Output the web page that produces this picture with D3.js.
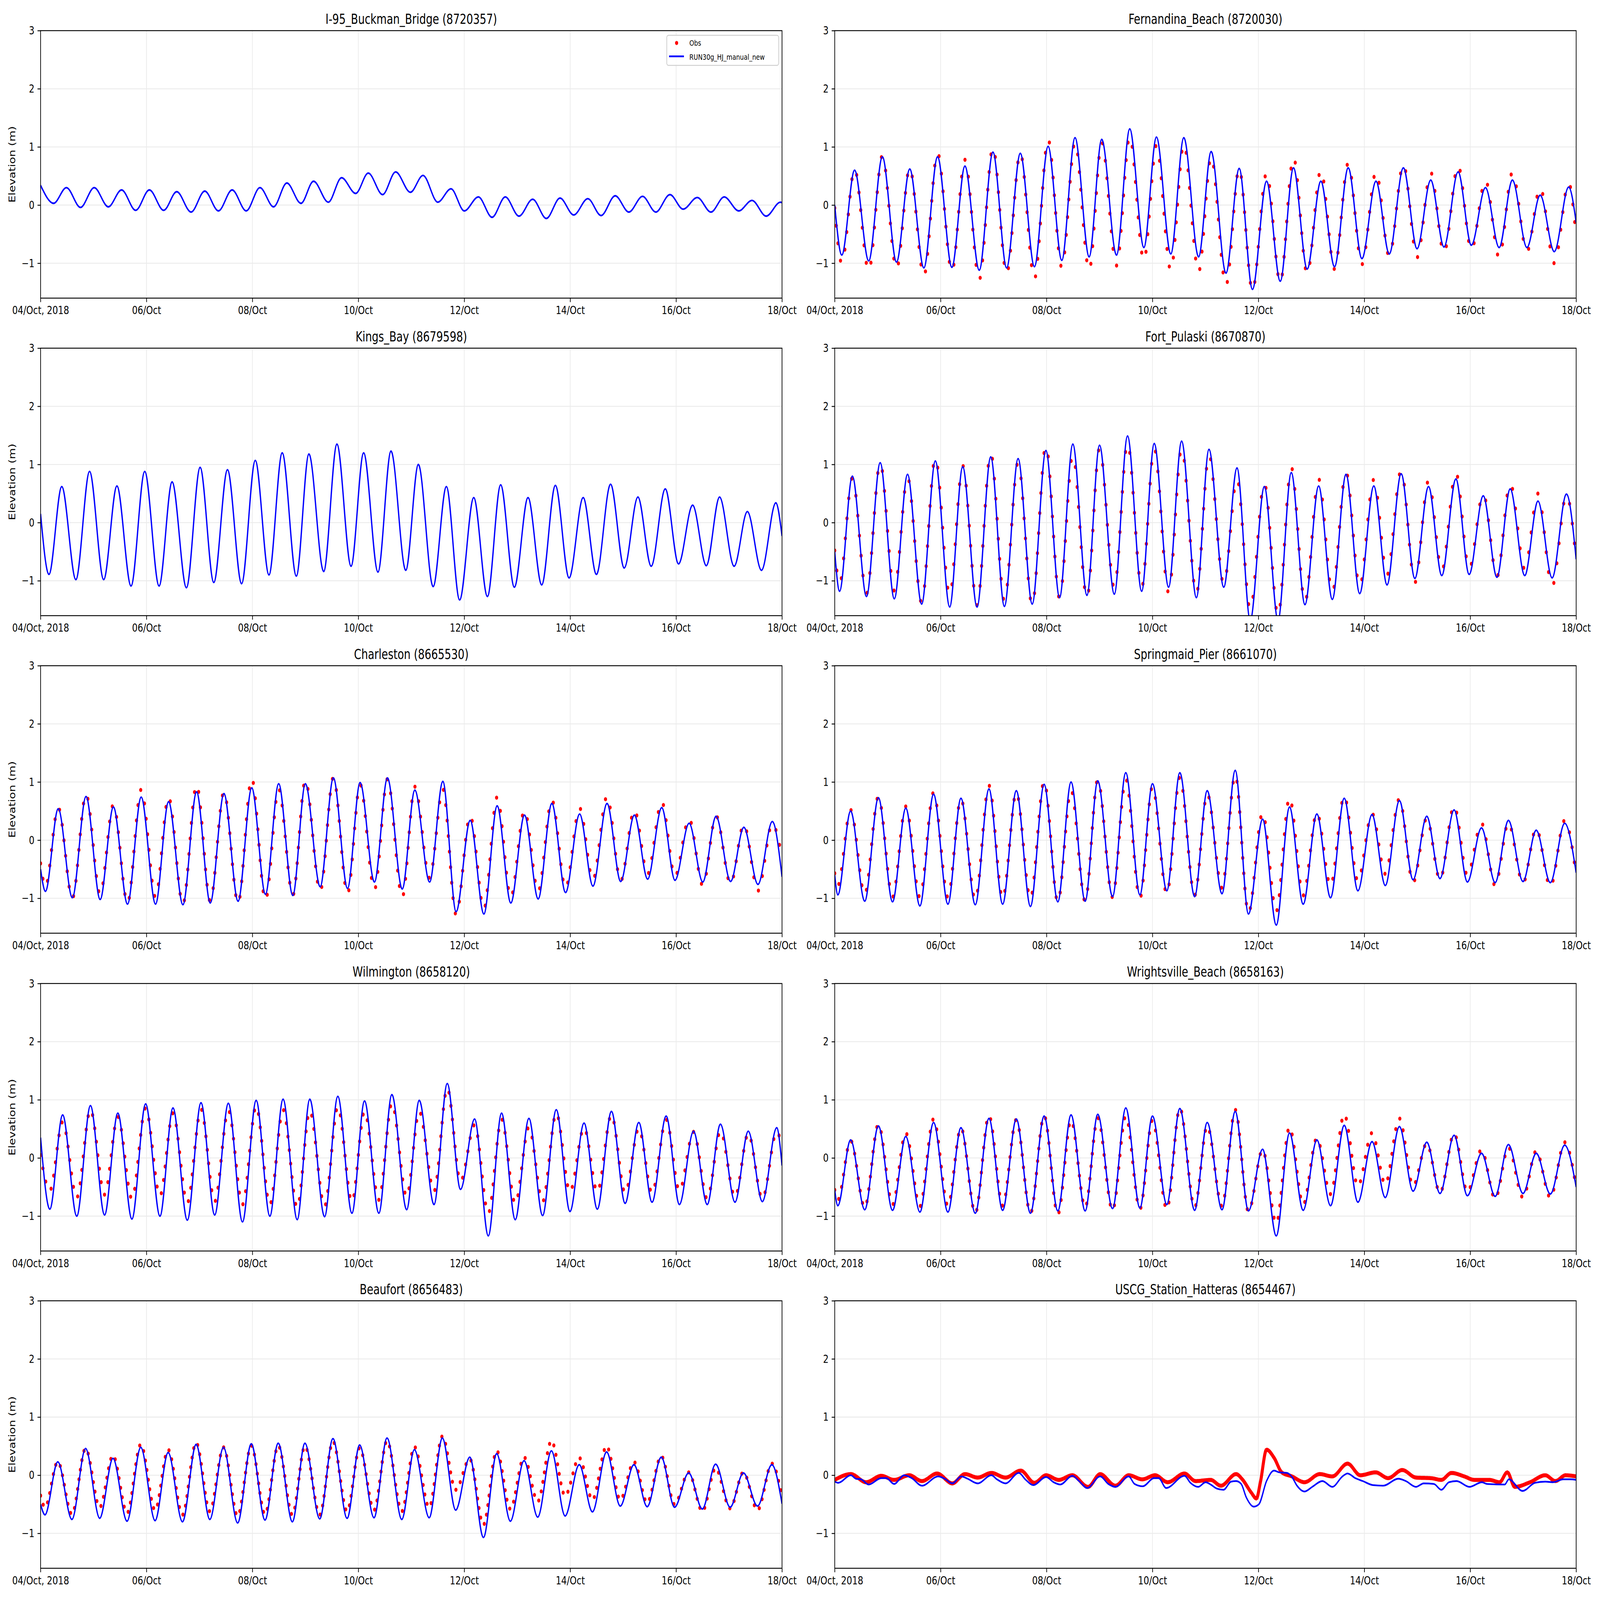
<!DOCTYPE html>
<html>
<head>
<meta charset="utf-8">
<script src="https://cdn.jsdelivr.net/npm/d3@7"></script>
<style>
  html, body { margin: 0; padding: 0; background: #fff; overflow: hidden; }
  svg { display: block; width: 100vw; height: 100vh; }
  text { font-family: "DejaVu Sans", sans-serif; }
</style>
</head>
<body>
<script>
// tide extrema times (hours after 04/Oct 00:00), alternating low / high
var extremaHours = [3.2, 9.0, 15.4, 21.6, 28.0, 34.0, 40.4, 46.6, 53.1, 59.0, 65.5, 71.7,
  77.9, 84.1, 90.5, 96.7, 102.9, 108.9, 115.3, 121.0, 127.7, 133.7, 140.1, 145.8,
  152.3, 158.2, 164.9, 170.6, 177.3, 183.3, 189.3, 195.7, 201.9, 207.9, 214.1, 220.3,
  226.5, 232.7, 238.9, 245.3, 251.3, 257.7, 263.9, 270.1, 276.1, 282.5, 288.5, 294.9,
  301.1, 307.1, 313.7, 319.7, 326.1, 332.6];

var stationNames = ["I-95_Buckman_Bridge (8720357)", "Fernandina_Beach (8720030)",
  "Kings_Bay (8679598)", "Fort_Pulaski (8670870)", "Charleston (8665530)",
  "Springmaid_Pier (8661070)", "Wilmington (8658120)", "Wrightsville_Beach (8658163)",
  "Beaufort (8656483)", "USCG_Station_Hatteras (8654467)"];
var phaseShift = [2.7, 0, 0.6, -1.0, -1.0, -1.8, 1.0, -1.8, -1.2, null];

var tickDays = [4, 6, 8, 10, 12, 14, 16, 18];
var tickLabels = ["04/Oct, 2018", "06/Oct", "08/Oct", "10/Oct", "12/Oct", "14/Oct", "16/Oct", "18/Oct"];
var yTicks = [-1, 0, 1, 2, 3];
var legendLabels = ["Obs", "RUN30g_HJ_manual_new"];

// series: value at 0h, then low/high pairs at the extrema, then value at 336h
var buckmanModel = [0.34,
  0.03,0.30, -0.04,0.30, -0.03,0.26, -0.09,0.26, -0.09,0.23, -0.12,0.24, -0.10,0.26,
  -0.10,0.30, -0.03,0.38, 0.03,0.41, 0.05,0.47, 0.20,0.55, 0.18,0.57, 0.22,0.51,
  0.05,0.28, -0.10,0.14, -0.21,0.14, -0.19,0.10, -0.23,0.12, -0.17,0.11, -0.18,0.16,
  -0.12,0.15, -0.12,0.18, -0.07,0.13, -0.12,0.14, -0.10,0.08, -0.19,0.05,
  0.04];
var fernandinaModel = [0.0,
  -0.86,0.60, -0.96,0.83, -0.98,0.62, -1.08,0.83, -1.07,0.67, -1.12,0.91, -1.08,0.89,
  -1.06,1.01, -0.95,1.16, -0.89,1.13, -0.86,1.31, -0.73,1.17, -0.84,1.16, -0.89,0.92,
  -1.17,0.63, -1.45,0.41, -1.31,0.64, -1.10,0.41, -1.06,0.64, -0.92,0.41, -0.84,0.64,
  -0.75,0.43, -0.72,0.57, -0.69,0.30, -0.73,0.43, -0.73,0.17, -0.80,0.31,
  -0.30];
var fernandinaObs = [-0.05,
  -1.00,0.62, -1.13,0.85, -1.10,0.64, -1.22,0.90, -1.14,0.78, -1.28,0.99, -1.18,0.90,
  -1.27,1.13, -1.07,1.08, -1.12,1.08, -1.04,1.18, -0.95,1.03, -1.12,1.05, -1.15,0.83,
  -1.38,0.63, -1.47,0.55, -1.33,0.82, -1.18,0.60, -1.10,0.72, -1.02,0.57, -0.88,0.70,
  -0.90,0.56, -0.82,0.68, -0.77,0.43, -0.90,0.56, -0.80,0.30, -1.00,0.38,
  -0.55];
var kingsModel = [0.15,
  -0.89,0.62, -0.98,0.88, -0.98,0.63, -1.09,0.88, -1.09,0.70, -1.12,0.95, -1.03,0.91,
  -1.05,1.07, -0.90,1.20, -0.92,1.18, -0.84,1.35, -0.75,1.20, -0.85,1.23, -0.82,1.00,
  -1.10,0.62, -1.33,0.43, -1.27,0.65, -1.11,0.43, -1.07,0.64, -0.95,0.43, -0.89,0.66,
  -0.78,0.44, -0.75,0.58, -0.71,0.30, -0.74,0.44, -0.75,0.19, -0.82,0.34,
  -0.23];
var pulaskiModel = [-0.50,
  -1.18,0.80, -1.27,1.03, -1.31,0.83, -1.40,1.06, -1.45,0.96, -1.45,1.13, -1.44,1.10,
  -1.40,1.24, -1.29,1.35, -1.25,1.33, -1.23,1.49, -1.18,1.36, -1.11,1.40, -1.29,1.26,
  -1.11,0.94, -1.68,0.62, -1.68,0.86, -1.41,0.63, -1.32,0.83, -1.22,0.63, -1.07,0.84,
  -0.96,0.62, -0.91,0.75, -0.89,0.46, -0.94,0.58, -0.91,0.37, -0.95,0.49,
  -0.63];
var pulaskiObs = [-0.48,
  -1.05,0.77, -1.22,1.03, -1.17,0.78, -1.38,1.12, -1.25,0.98, -1.42,1.20, -1.35,1.04,
  -1.42,1.33, -1.30,1.17, -1.30,1.28, -1.12,1.37, -1.12,1.28, -1.20,1.28, -1.23,1.17,
  -1.06,0.76, -1.50,0.68, -1.60,0.95, -1.37,0.75, -1.20,0.87, -1.10,0.74, -0.90,0.90,
  -1.03,0.72, -0.83,0.86, -0.80,0.50, -0.93,0.68, -0.80,0.50, -1.10,0.48,
  -0.65];
var charlestonModel = [-0.50,
  -0.88,0.54, -0.99,0.75, -1.02,0.57, -1.10,0.74, -1.10,0.66, -1.11,0.83, -1.08,0.80,
  -1.05,0.90, -0.93,0.97, -0.95,0.97, -0.80,1.07, -0.83,0.99, -0.72,1.07, -0.84,0.86,
  -0.72,1.01, -1.23,0.34, -1.27,0.59, -1.08,0.43, -1.01,0.63, -0.90,0.45, -0.79,0.63,
  -0.71,0.43, -0.67,0.56, -0.69,0.29, -0.72,0.41, -0.71,0.22, -0.76,0.32,
  -0.63];
var charlestonObs = [-0.40,
  -0.80,0.56, -1.00,0.79, -0.93,0.61, -1.08,0.87, -0.98,0.74, -1.10,0.95, -1.05,0.83,
  -1.08,1.06, -1.03,0.88, -0.95,1.03, -0.88,1.08, -0.92,0.96, -0.85,1.05, -0.98,0.92,
  -0.65,0.88, -1.28,0.42, -1.18,0.74, -0.98,0.51, -0.88,0.69, -0.82,0.55, -0.68,0.75,
  -0.70,0.52, -0.58,0.66, -0.62,0.37, -0.78,0.42, -0.75,0.27, -0.87,0.28,
  -0.30];
var springmaidModel = [-0.60,
  -0.94,0.50, -1.05,0.73, -1.06,0.55, -1.13,0.79, -1.10,0.72, -1.11,0.88, -1.10,0.85,
  -1.14,0.96, -1.06,1.00, -1.05,1.02, -0.97,1.16, -0.94,0.97, -0.87,1.16, -0.97,0.85,
  -0.92,1.20, -1.27,0.36, -1.46,0.57, -1.10,0.45, -0.99,0.72, -0.87,0.44, -0.78,0.68,
  -0.68,0.41, -0.66,0.52, -0.72,0.21, -0.73,0.34, -0.71,0.17, -0.73,0.29,
  -0.56];
var springmaidObs = [-0.57,
  -0.78,0.52, -0.93,0.75, -0.98,0.58, -0.98,0.82, -0.98,0.71, -1.02,0.94, -1.00,0.82,
  -1.00,1.01, -1.06,0.86, -1.05,1.04, -0.98,1.05, -1.00,0.92, -0.92,1.08, -0.95,0.80,
  -0.82,1.12, -1.25,0.47, -1.22,0.73, -0.95,0.47, -0.78,0.76, -0.70,0.46, -0.58,0.71,
  -0.73,0.38, -0.68,0.59, -0.60,0.29, -0.78,0.30, -0.74,0.20, -0.80,0.34,
  -0.60];
var wilmingtonModel = [0.35,
  -0.88,0.74, -1.00,0.90, -0.98,0.77, -1.05,0.93, -1.00,0.86, -1.07,0.95, -0.98,0.94,
  -1.10,0.99, -1.00,1.01, -1.06,1.01, -1.01,1.06, -0.95,0.98, -0.95,1.09, -0.89,0.99,
  -0.80,1.28, -0.54,0.67, -1.34,0.77, -1.06,0.68, -0.99,0.83, -0.92,0.60, -0.88,0.80,
  -0.78,0.61, -0.76,0.72, -0.80,0.46, -0.80,0.58, -0.76,0.46, -0.75,0.52,
  -0.13];
var wilmingtonObs = [0.05,
  -0.56,0.62, -0.68,0.83, -0.63,0.71, -0.70,0.86, -0.65,0.77, -0.77,0.84, -0.75,0.82,
  -0.80,0.89, -0.80,0.83, -0.85,0.81, -0.83,0.88, -0.75,0.80, -0.72,0.94, -0.66,0.80,
  -0.57,1.20, -0.40,0.57, -0.95,0.67, -0.78,0.53, -0.75,0.77, -0.58,0.52, -0.58,0.74,
  -0.60,0.51, -0.60,0.66, -0.56,0.45, -0.70,0.46, -0.67,0.42, -0.70,0.45,
  0.20];
var wrightsvilleModel = [-0.55,
  -0.82,0.31, -0.89,0.55, -0.90,0.37, -0.93,0.61, -0.93,0.52, -0.95,0.68, -0.90,0.67,
  -0.95,0.72, -0.91,0.74, -0.91,0.75, -0.87,0.86, -0.86,0.72, -0.80,0.85, -0.90,0.61,
  -0.89,0.80, -0.91,0.15, -1.34,0.43, -0.90,0.31, -0.82,0.56, -0.76,0.28, -0.68,0.54,
  -0.57,0.27, -0.61,0.39, -0.65,0.08, -0.66,0.23, -0.61,0.08, -0.62,0.22,
  -0.50];
var wrightsvilleObs = [-0.55,
  -0.72,0.30, -0.85,0.58, -0.80,0.43, -0.83,0.67, -0.82,0.52, -0.95,0.73, -0.82,0.66,
  -0.95,0.73, -0.97,0.65, -0.85,0.69, -0.90,0.72, -0.88,0.65, -0.88,0.86, -0.85,0.55,
  -0.83,0.83, -0.92,0.14, -1.12,0.53, -0.80,0.34, -0.62,0.75, -0.48,0.43, -0.45,0.68,
  -0.48,0.25, -0.60,0.42, -0.58,0.14, -0.70,0.18, -0.68,0.12, -0.68,0.27,
  -0.50];
var beaufortModel = [-0.50,
  -0.68,0.23, -0.76,0.46, -0.74,0.29, -0.79,0.48, -0.78,0.39, -0.80,0.53, -0.76,0.48,
  -0.82,0.54, -0.77,0.55, -0.80,0.55, -0.75,0.63, -0.74,0.52, -0.73,0.64, -0.76,0.44,
  -0.73,0.64, -0.60,0.31, -1.07,0.37, -0.79,0.25, -0.72,0.42, -0.70,0.18, -0.63,0.40,
  -0.53,0.18, -0.54,0.31, -0.55,0.04, -0.58,0.19, -0.55,0.04, -0.53,0.18,
  -0.49];
var beaufortObs = [-0.35,
  -0.55,0.23, -0.67,0.46, -0.55,0.34, -0.65,0.53, -0.60,0.44, -0.68,0.56, -0.62,0.48,
  -0.70,0.51, -0.67,0.51, -0.68,0.50, -0.68,0.58, -0.62,0.47, -0.60,0.59, -0.62,0.49,
  -0.55,0.67, -0.25,0.28, -0.85,0.42, -0.58,0.31, -0.45,0.59, -0.35,0.30, -0.42,0.50,
  -0.42,0.23, -0.47,0.33, -0.50,0.05, -0.62,0.12, -0.57,0.05, -0.60,0.20,
  -0.38];
// Hatteras is barely tidal: [hour, value] pairs
var hatterasModel = [[0,-0.11],[1.6,-0.13],[7.3,0.0],[9.6,-0.06],[11.9,-0.07],[15.4,-0.16],
  [21.1,-0.05],[23.4,-0.05],[26.9,-0.15],[31.5,0.0],[34.9,-0.05],[39.5,-0.18],[46.9,-0.02],
  [49.8,-0.06],[53.3,-0.14],[57.4,-0.02],[60.2,-0.06],[64.8,-0.14],[71.0,0.0],[73.5,-0.07],
  [77.4,-0.14],[83.4,0.04],[86.6,-0.08],[90.0,-0.17],[95.8,-0.03],[99.2,-0.12],[102.2,-0.16],
  [107.7,-0.01],[110.7,-0.10],[114.4,-0.22],[120.3,-0.02],[124.0,-0.15],[127.2,-0.20],
  [133.2,-0.02],[135.9,-0.15],[139.6,-0.19],[144.7,-0.05],[146.8,-0.05],[150.2,-0.22],
  [158.5,-0.01],[161.2,-0.13],[164.7,-0.20],[168.1,-0.12],[170.4,-0.16],[173.2,-0.23],
  [176.2,-0.25],[179.6,-0.11],[181.9,-0.10],[184.2,-0.15],[186.5,-0.38],[189.9,-0.54],
  [192.2,-0.50],[195.7,-0.10],[199.1,0.08],[201.4,0.05],[204.9,0.04],[207.2,-0.03],
  [209.5,-0.18],[212.9,-0.28],[216.4,-0.20],[221.0,-0.10],[225.5,-0.20],[230.1,-0.02],
  [232.4,0.03],[235.9,-0.05],[239.3,-0.10],[243.9,-0.17],[248.5,-0.18],[255.4,-0.06],
  [258.8,-0.10],[263.4,-0.20],[266.9,-0.14],[271.5,-0.15],[274.9,-0.25],[278.4,-0.12],
  [281.8,-0.10],[287.6,-0.20],[293.3,-0.12],[295.6,-0.15],[303.6,-0.16],[305.5,-0.07],
  [311.7,-0.27],[317.4,-0.13],[322.0,-0.11],[325.5,-0.12],[330.1,-0.07],[333.5,-0.07],[336,-0.08]];
var hatterasObs = [[0,-0.08],[7.3,0.02],[14.2,-0.12],[21.1,-0.01],[26.9,-0.08],[33.8,0.0],
  [39.5,-0.10],[46.4,0.03],[53.3,-0.14],[59.0,0.02],[64.8,-0.04],[71.0,0.04],[77.4,-0.04],
  [84.3,0.08],[90.5,-0.13],[95.8,0.0],[101.5,-0.08],[107.7,0.0],[114.8,-0.20],[120.3,0.02],
  [127.2,-0.18],[133.2,0.0],[139.4,-0.07],[145.2,0.0],[150.9,-0.12],[158.5,0.03],[163.5,-0.10],
  [170.4,-0.08],[175.0,-0.18],[181.9,0.02],[184.7,-0.07],[188.8,-0.30],[191.1,-0.40],
  [192.9,-0.12],[195.7,0.44],[199.1,0.30],[202.6,0.05],[207.2,-0.02],[212.9,-0.12],
  [219.8,0.02],[225.5,-0.02],[232.4,0.20],[238.2,0.0],[245.1,0.05],[250.8,-0.05],[257.2,0.09],
  [263.4,-0.04],[270.3,-0.05],[274.9,-0.08],[279.5,0.04],[285.3,-0.02],[289.8,-0.08],
  [296.7,-0.08],[301.3,-0.12],[304.8,0.05],[308.2,-0.20],[315.1,-0.12],[322.0,0.0],
  [326.6,-0.10],[331.2,0.0],[336,-0.02]];

var modelSeries = [buckmanModel, fernandinaModel, kingsModel, pulaskiModel, charlestonModel,
  springmaidModel, wilmingtonModel, wrightsvilleModel, beaufortModel, hatterasModel];
var obsSeries = [null, fernandinaObs, null, pulaskiObs, charlestonObs,
  springmaidObs, wilmingtonObs, wrightsvilleObs, beaufortObs, hatterasObs];

var W = 7650, H = 5850;
var colLeft = [194, 3991], rowTop = [112, 1273, 2434, 3596, 4756];
var axW = 3545, axH = 978;
var fs = 41.7, lw = 3.3;
var t0 = Date.UTC(2018, 9, 4), hourMs = 3600e3;

function toPoints(vals, shift) {
  if (shift === null) return vals;
  var hrs = [0].concat(extremaHours.map(function(h) { return h + shift; }), [336]);
  return vals.map(function(v, i) { return [hrs[i], v]; });
}

// the figure is laid out at 7650x5850 and stretched onto the whole window
var svg = d3.select("body").append("svg")
    .attr("viewBox", "0 0 " + W + " " + H)
    .attr("preserveAspectRatio", "none");

svg.append("rect").attr("width", W).attr("height", H).attr("fill", "#fff");

var x = d3.scaleUtc()
    .domain([new Date(t0), new Date(t0 + 336 * hourMs)])
    .range([0, axW]);
var y = d3.scaleLinear().domain([-1.6, 3]).range([axH, 0]);
var tickDates = tickDays.map(function(d) { return new Date(Date.UTC(2018, 9, d)); });

var line = d3.line()
    .x(function(d) { return x(new Date(t0 + d[0] * hourMs)); })
    .y(function(d) { return y(d[1]); })
    .curve(d3.curveMonotoneX);

stationNames.forEach(function(name, i) {
  var col = i % 2, row = Math.floor(i / 2);
  var g = svg.append("g")
      .attr("transform", "translate(" + colLeft[col] + "," + rowTop[row] + ")");

  g.append("clipPath").attr("id", "clip" + i)
    .append("rect").attr("width", axW).attr("height", axH);

  // grid
  g.append("g").selectAll("line").data(tickDates).enter().append("line")
      .attr("x1", function(d) { return x(d); }).attr("x2", function(d) { return x(d); })
      .attr("y1", 0).attr("y2", axH)
      .attr("stroke", "#ebebeb").attr("stroke-width", lw);
  g.append("g").selectAll("line").data(yTicks).enter().append("line")
      .attr("x1", 0).attr("x2", axW)
      .attr("y1", function(d) { return y(d); }).attr("y2", function(d) { return y(d); })
      .attr("stroke", "#ebebeb").attr("stroke-width", lw);

  var plot = g.append("g").attr("clip-path", "url(#clip" + i + ")");

  if (obsSeries[i]) {
    var obsPath = plot.append("path")
        .datum(toPoints(obsSeries[i], phaseShift[i]))
        .attr("d", line)
        .attr("fill", "none")
        .attr("stroke", "red")
        .attr("stroke-width", 15)
        .attr("stroke-linecap", "round");
    var len = obsPath.node().getTotalLength();
    var gap = phaseShift[i] === null ? 5 : len / 336;
    obsPath.attr("stroke-dasharray", "0 " + gap);
  }

  plot.append("path")
      .datum(toPoints(modelSeries[i], phaseShift[i]))
      .attr("d", line)
      .attr("fill", "none")
      .attr("stroke", "blue")
      .attr("stroke-width", 6.25)
      .attr("stroke-linejoin", "round");

  // axes
  var ax = g.append("g").attr("transform", "translate(0," + axH + ")")
      .call(d3.axisBottom(x).tickValues(tickDates)
        .tickFormat(function(d, k) { return tickLabels[k]; })
        .tickSize(14.6).tickPadding(14.6).tickSizeOuter(0));
  var ay = g.append("g")
      .call(d3.axisLeft(y).tickValues(yTicks)
        .tickFormat(function(d) { return d < 0 ? "\u2212" + Math.abs(d) : d; })
        .tickSize(14.6).tickPadding(14.6).tickSizeOuter(0));
  [ax, ay].forEach(function(a) {
    a.select(".domain").remove();
    a.attr("font-size", fs).attr("font-family", "DejaVu Sans");
    a.selectAll(".tick line").attr("stroke", "#000").attr("stroke-width", lw);
    a.selectAll(".tick text").attr("fill", "#000");
  });

  g.append("rect")
      .attr("width", axW).attr("height", axH)
      .attr("fill", "none").attr("stroke", "#000").attr("stroke-width", lw);

  g.append("text")
      .attr("x", axW / 2).attr("y", -25)
      .attr("text-anchor", "middle")
      .attr("font-size", 50)
      .text(name);

  if (col === 0) {
    g.append("text")
        .attr("transform", "translate(-122," + (axH / 2) + ") rotate(-90)")
        .attr("text-anchor", "middle")
        .attr("font-size", fs)
        .text("Elevation (m)");
  }

  if (i === 0) {
    var lg = g.append("g").attr("transform", "translate(2994,17)");
    lg.append("rect")
        .attr("width", 535).attr("height", 110).attr("rx", 8)
        .attr("fill", "#fff").attr("fill-opacity", 0.8)
        .attr("stroke", "#cccccc").attr("stroke-width", lw);
    lg.append("circle").attr("cx", 47).attr("cy", 28).attr("r", 7.5).attr("fill", "red");
    lg.append("line").attr("x1", 11).attr("x2", 82).attr("y1", 77).attr("y2", 77)
        .attr("stroke", "blue").attr("stroke-width", 6.25);
    lg.selectAll("text.lab").data(legendLabels).enter().append("text")
        .attr("class", "lab")
        .attr("x", 108)
        .attr("y", function(d, k) { return 38 + k * 51; })
        .attr("font-size", 29)
        .text(function(d) { return d; });
  }
});
</script>
</body>
</html>
